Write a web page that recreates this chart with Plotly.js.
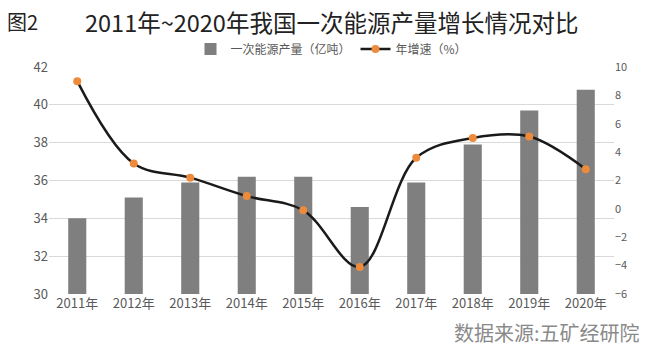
<!DOCTYPE html>
<html>
<head>
<meta charset="utf-8">
<script src="https://cdn.plot.ly/plotly-3.0.1.min.js"></script>
<style>html,body{margin:0;padding:0;background:#fff;}#chart{width:660px;height:354px;}</style>
</head>
<body>
<div id="chart"></div>
<script>
const years = ['2011年','2012年','2013年','2014年','2015年','2016年','2017年','2018年','2019年','2020年'];
const production = [34.0, 35.1, 35.9, 36.2, 36.2, 34.6, 35.9, 37.9, 39.7, 40.8];
const growth = [9.0, 3.2, 2.2, 0.9, -0.1, -4.1, 3.6, 5.0, 5.1, 2.8];
const leftTicks = [30, 32, 34, 36, 38, 40, 42];
const rightTicks = [-6, -4, -2, 0, 2, 4, 6, 8, 10];

const font = '"Noto Sans CJK SC", "Noto Sans", sans-serif';
const traces = [
  {
    type: 'bar', x: years, y: production, name: '一次能源产量（亿吨）',
    marker: {color: '#7f7f7f'}, yaxis: 'y'
  },
  {
    type: 'scatter', mode: 'lines+markers', x: years, y: growth, name: '年增速（%）',
    line: {color: '#1a1a1a', width: 2.5, shape: 'spline', smoothing: 1},
    marker: {color: '#ED8B3D', size: 8}, yaxis: 'y2'
  }
];
const layout = {
  width: 660, height: 354,
  margin: {l: 49, r: 46, t: 67, b: 60},
  paper_bgcolor: '#fff', plot_bgcolor: '#fff',
  font: {family: font, color: '#595959'},
  bargap: 0.68,
  showlegend: true,
  legend: {orientation: 'h', x: 0.5, xanchor: 'center', y: 1.079, yanchor: 'middle',
    font: {size: 12, color: '#595959'}, itemwidth: 30, tracegroupgap: 0, bgcolor: 'rgba(0,0,0,0)'},
  xaxis: {type: 'category', range: [-0.5, 9.5], showgrid: false, zeroline: false, showline: false,
    ticks: '', tickfont: {size: 13, color: '#595959'}},
  yaxis: {range: [30, 42], tickvals: leftTicks, showgrid: true, gridcolor: '#d9d9d9', gridwidth: 1,
    zeroline: false, showline: false, ticks: '', tickfont: {size: 13, color: '#595959'}},
  yaxis2: {range: [-6, 10], tickvals: rightTicks, overlaying: 'y', side: 'right', showgrid: false,
    zeroline: false, showline: false, ticks: '', tickfont: {size: 11, color: '#595959'}},
  annotations: [
    {text: '图2', xref: 'paper', yref: 'paper', x: -0.078, y: 1.2, xanchor: 'left', yanchor: 'middle',
      showarrow: false, font: {size: 20, color: '#222', family: font}},
    {text: '2011年~2020年我国一次能源产量增长情况对比', xref: 'paper', yref: 'paper', x: 0.5, y: 1.2,
      xanchor: 'center', yanchor: 'middle', showarrow: false, font: {size: 23.5, color: '#222', family: font}},
    {text: '数据来源:五矿经研院', xref: 'paper', yref: 'paper', x: 1.05, y: -0.17, xanchor: 'right', yanchor: 'middle',
      showarrow: false, font: {size: 20, color: '#8a8a8a', family: font}}
  ]
};
Plotly.newPlot('chart', traces, layout, {displayModeBar: false, staticPlot: true});
</script>
</body>
</html>
